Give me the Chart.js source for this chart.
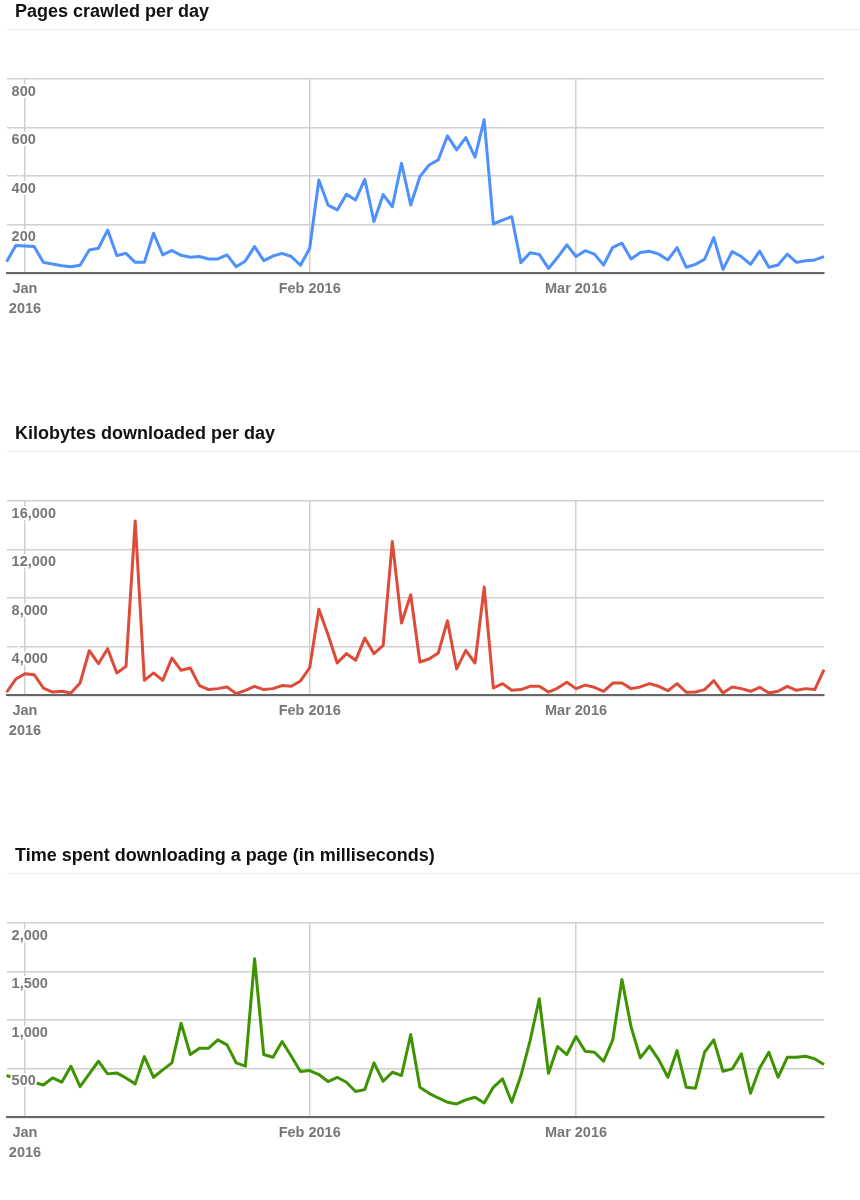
<!DOCTYPE html>
<html>
<head>
<meta charset="utf-8">
<title>Crawl stats</title>
<script src="https://cdn.jsdelivr.net/npm/chart.js@4.4.0/dist/chart.umd.min.js"></script>
<style>
  body {
    margin: 0;
    width: 860px;
    height: 1200px;
    overflow: hidden;
    background: #fff;
    font-family: "Liberation Sans", Arial, sans-serif;
  }
  .block {
    position: absolute;
    left: 0;
    width: 860px;
    height: 360px;
  }
  .title {
    position: absolute;
    left: 7px;
    right: 0;
    top: 0;
    height: 29px;
    padding-left: 8px;
    line-height: 23px;
    font-size: 18px;
    font-weight: bold;
    color: #111;
    border-bottom: 1px solid #eee;
    z-index: 2;
  }
</style>
</head>
<body>
<div class="block" style="top:0px">
  <div class="title">Pages crawled per day</div>
  <canvas id="pagesChart"></canvas>
</div>
<div class="block" style="top:422px">
  <div class="title">Kilobytes downloaded per day</div>
  <canvas id="kbChart"></canvas>
</div>
<div class="block" style="top:844px">
  <div class="title">Time spent downloading a page (in milliseconds)</div>
  <canvas id="timeChart"></canvas>
</div>
<script>
// days shown: 30 Dec 2015 .. 28 Mar 2016
const days = [];
for (let i = 0; i < 90; i++) {
  days.push(new Date(Date.UTC(2015, 11, 30 + i)).toISOString().slice(0, 10));
}
const tickDays = ["2016-01-01", "2016-02-01", "2016-03-01"];
const tickLabels = [["Jan", "2016"], "Feb 2016", "Mar 2016"];

const pagesCrawled = [
  48, 114,
  112, 110, 45, 38, 31, 27, 33, 96, 103, 178, 73, 82, 45, 45, 165, 76, 94, 74,
  66, 69, 59, 59, 76, 27, 51, 110, 52, 71, 82, 69, 33,
  103, 384, 281, 261, 325, 302, 387, 213, 324, 274, 453, 281, 398, 446, 467, 566,
  508, 559, 478, 632, 203, 219, 233, 44, 85, 78, 20, 66, 117,
  69, 93, 79, 34, 107, 124, 59, 86, 91, 79, 55, 106, 25, 37, 58, 147, 16, 89,
  69, 37, 91, 25, 34, 79, 45, 52, 55, 69
];
const kilobytesDownloaded = [
  250, 1340,
  1780, 1700, 600, 270, 330, 190, 1010, 3670, 2600, 3840, 1840, 2380, 14360, 1230,
  1840, 1230, 3070, 2060, 2250, 800, 470, 550, 690, 140, 410, 740, 470, 550, 800,
  740, 1180,
  2270, 7080, 4990, 2660, 3430, 2880, 4710, 3430, 4110, 12660, 5950, 8280, 2740,
  2990, 3480, 6140, 2170, 3700, 2660, 8910, 600, 960, 410, 470, 740, 740, 270,
  600, 1080,
  550, 840, 660, 330, 1010, 1010, 550, 690, 960, 740, 380, 960, 250, 270, 470,
  1210, 190, 690, 550, 330, 660, 190, 330, 740, 410, 550, 470, 2110
];
const downloadTime = [
  430, 400,
  380, 360, 333, 405, 361, 526, 316, 447, 577, 447, 457, 405, 344, 625, 412, 488,
  560, 969, 646, 711, 711, 797, 746, 560, 526, 1632, 646, 618, 780, 629, 471,
  481, 440, 368, 412, 361, 265, 285, 560, 371, 464, 430, 852, 309, 247, 199, 155,
  137, 179, 206, 148, 309, 395, 155, 430, 790, 1220, 454, 728, 646,
  832, 680, 670, 577, 797, 1419, 928, 612, 732, 594, 412, 687, 309, 299, 670, 797,
  474, 498, 653, 247, 508, 670, 412, 618, 618, 629, 601, 543
];

const tickFont = { family: "'Liberation Sans', Arial, sans-serif", size: 14.5, weight: "bold", lineHeight: 1.35 };
const tickColor = "#777";
const gridColor = "#d0d0d0";

function makeChart(id, values, color, yMax, yStep) {
  const ctx = document.getElementById(id).getContext("2d");
  return new Chart(ctx, {
    type: "line",
    data: {
      labels: days,
      datasets: [
        {
          data: values,
          borderColor: color,
          borderWidth: 3,
          borderJoinStyle: "round",
          pointRadius: 0,
          tension: 0,
          fill: false,
        },
      ],
    },
    options: {
      responsive: true,
      maintainAspectRatio: false,
      animation: false,
      layout: {
        padding: { top: 79, left: 6.6, right: 36, bottom: 26.7 },
      },
      plugins: {
        legend: { display: false },
        tooltip: { enabled: false },
      },
      scales: {
        x: {
          type: "category",
          offset: false,
          afterBuildTicks: (axis) => {
            axis.ticks = tickDays.map((d) => ({ value: days.indexOf(d) }));
          },
          afterFit: (axis) => {
            axis.height = 60;
          },
          grid: { color: gridColor, lineWidth: 1.5, drawTicks: false },
          border: { color: "#666", width: 2 },
          ticks: {
            autoSkip: false,
            maxRotation: 0,
            padding: 6,
            font: tickFont,
            color: tickColor,
            callback: function (value) {
              return tickLabels[tickDays.indexOf(this.getLabelForValue(value))];
            },
          },
        },
        y: {
          min: 0,
          max: yMax,
          afterFit: (axis) => {
            axis.width = 0;
          },
          grid: { color: gridColor, lineWidth: 1.5, drawTicks: false },
          border: { display: false },
          ticks: {
            stepSize: yStep,
            mirror: true,
            padding: 5,
            labelOffset: 12.5,
            z: 1,
            font: tickFont,
            color: tickColor,
            textStrokeColor: "#fff",
            textStrokeWidth: 4,
            callback: (value) => (value === 0 ? "" : value.toLocaleString("en-US")),
          },
        },
      },
    },
  });
}

makeChart("pagesChart", pagesCrawled, "#4d90fe", 800, 200);
makeChart("kbChart", kilobytesDownloaded, "#dd4b39", 16000, 4000);
makeChart("timeChart", downloadTime, "#3d9400", 2000, 500);
</script>
</body>
</html>
